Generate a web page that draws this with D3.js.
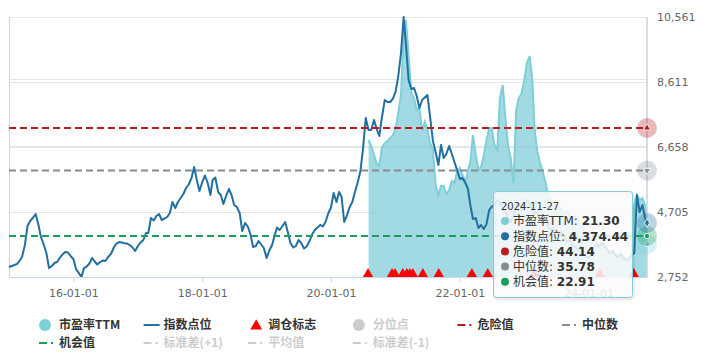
<!DOCTYPE html>
<html>
<head>
<meta charset="utf-8">
<script src="https://cdn.jsdelivr.net/npm/d3@7"></script>
<style>
    body {margin: 0; background: #fff}
    svg {display: block; font-family: "Microsoft YaHei", "Noto Sans CJK SC", sans-serif}
</style>
</head>
<body>
<svg id="chart" width="715" height="353"></svg>
<script>
// index samples: 1st and 16th of each month, 2015-01 .. 2024-11, then the last day
const indexValues = [
    3052, 3082, 3112, 3148, 3232, 3353, 3713, 4284, 4434, 4524, 4644, 4344, 3954, 3743, 3473, 3022, 3082, 3172, 3202, 3323, 3428, 3503, 3488, 3383,
    3293, 2992, 2870, 2752, 3022, 3067, 3157, 3323, 3218, 3127, 3202, 3247, 3232, 3353, 3443, 3623, 3758, 3803, 3788, 3764, 3758, 3713, 3638, 3533,
    3683, 3788, 3863, 4073, 4073, 4524, 4449, 4584, 4644, 4464, 4509, 4554, 4674, 5005, 4824, 5005, 5125, 5245, 5425, 5530, 5725, 6056, 5665, 5335,
    5605, 5800, 5575, 5215, 5665, 5740, 5305, 5215, 4944, 5185, 5395, 5215, 4914, 4854, 4674, 4134, 4374, 4269, 4043, 3653, 3683, 3833, 3728, 3623,
    3323, 3548, 3713, 4013, 4239, 4164, 4284, 4404, 4104, 3773, 3638, 3683, 3863, 3773, 3608, 3668, 3833, 4028, 4164, 4239, 4314, 4269, 4404, 4659,
    4839, 5275, 5005, 5305, 5155, 4404, 4614, 4854, 5005, 5305, 5605, 5936, 6626, 7528, 7167, 7167, 7468, 7197, 6987, 7558, 8068, 8008, 8008, 8098,
    8309, 8759, 9480, 10561, 9720, 8669, 8398, 8428, 8188, 7828, 8068, 8143, 8218, 7558, 6837, 6506, 6116, 6717, 6326, 6446, 6687, 6446, 6206, 5966,
    5695, 5725, 5575, 5395, 4914, 4494, 4524, 4224, 4314, 4194, 4344, 4764, 4864, 4914, 5065, 4974, 4824, 4704, 4524, 4404, 4614, 4884, 4974, 4764,
    4914, 5065, 4944, 4764, 4644, 4704, 4524, 4404, 4464, 4284, 4164, 4224, 4073, 3983, 4104, 3923, 3803, 3863, 3713, 3653, 3563, 3683, 3503, 3383,
    3323, 3443, 3623, 3743, 3653, 3773, 3683, 3563, 3473, 3533, 3413, 3353, 3443, 3323, 3263, 3293, 3413, 3473, 5215, 4704, 4914, 4524,
    4374.44
]

// PE TTM from 2020-08-01 on, same sampling
const peValues = [
    41.78, 40.60, 38.83, 37.26, 36.67, 40.40, 41.09, 41.58, 42.17, 42.66,
    43.94, 47.08, 50.62, 63.00, 65.36, 58.48, 51.01, 50.03, 47.67, 48.07, 43.55, 45.32, 43.75, 41.19, 39.81, 32.93, 30.97, 32.74, 32.74, 31.16, 31.95, 33.72, 33.32, 35.49,
    36.27, 34.90, 33.52, 35.88, 37.45, 42.76, 38.83, 35.88, 36.47, 38.63, 41.78, 44.13, 44.13, 40.79, 39.81, 50.03, 52.58, 46.10, 40.79, 38.24, 33.32, 47.67, 50.03, 50.82,
    53.57, 56.91, 58.28, 53.57, 43.74, 39.42, 37.26, 35.49, 33.52, 30.97, 29.98, 29.20, 28.61, 29.00, 28.02, 27.43, 27.82, 27.04, 26.45, 26.84, 26.05, 25.27, 24.48, 23.69,
    22.91, 22.12, 22.52, 21.73, 21.14, 20.55, 20.75, 20.16, 19.57, 19.76, 19.17, 18.78, 18.98, 18.39, 18.19, 17.99, 18.39, 29.00, 30.97, 29.98, 30.38, 29.00,
    21.30
]
const peStartIndex = 134

const tradeDates = ["2020-07-29", "2020-12-12", "2020-12-29", "2021-02-11", "2021-03-06", "2021-03-23", "2021-04-09",
    "2021-06-05", "2021-09-03", "2022-03-10", "2022-06-08", "2023-03-02", "2024-03-04", "2024-09-13"]

const dangerValue = 44.14,
    medianValue = 35.78,
    chanceValue = 22.91

const lastDate = "2024-11-27"
const indexTicks = [2752, 4705, 6658, 8611, 10561]
const peTicks = [14.85, 27.6, 40.6, 53.8, 65.95]
const xTicks = ["2016-01-01", "2018-01-01", "2020-01-01", "2022-01-01", "2024-01-01"]

const colors = {
    pe: "#7ecfd8",
    index: "#21709f",
    danger: "#bb1b1f",
    median: "#868b94",
    chance: "#1d9e5c",
    trade: "#ff0000",
    off: "#cccccc"
}

const legendItems = [
    {name: "市盈率TTM", symbol: "circle", color: colors.pe},
    {name: "指数点位", symbol: "line", color: colors.index},
    {name: "调仓标志", symbol: "triangle", color: colors.trade},
    {name: "分位点", symbol: "circle", color: colors.off, off: true},
    {name: "危险值", symbol: "dash", color: colors.danger},
    {name: "中位数", symbol: "dash", color: colors.median},
    {name: "机会值", symbol: "dash", color: colors.chance},
    {name: "标准差(+1)", symbol: "dash", color: colors.off, off: true},
    {name: "平均值", symbol: "dash", color: colors.off, off: true},
    {name: "标准差(-1)", symbol: "dash", color: colors.off, off: true}
]

const numberFont = "DejaVu Sans, Noto Sans CJK SC, sans-serif"


let parse = d3.timeParse("%Y-%m-%d"),
    dates = []

d3.timeMonth.range(new Date(2015, 0, 1), new Date(2024, 11, 1)).forEach(function(m) {
    dates.push(m, d3.timeDay.offset(m, 15))
})
dates.push(parse(lastDate))

let indexData = indexValues.map((v, i) => ({date: dates[i], value: v})),
    peData = peValues.map((v, i) => ({date: dates[peStartIndex + i], value: v}))

let svg = d3.select("#chart"),
    plotLeft = 9, plotRight = 647, plotTop = 17, plotBottom = 277

let x = d3.scaleTime().domain([new Date(2015, 0, 1), parse(lastDate)]).range([plotLeft, plotRight]),
    yIndex = d3.scaleLinear().domain([2752, 10561]).range([plotBottom, plotTop]),
    yPe = d3.scaleLinear().domain([14.85, 65.95]).range([plotBottom, plotTop])

// grid lines of both axes
svg.append("g").selectAll("line")
    .data(peTicks)
    .join("line")
    .attr("x1", plotLeft).attr("x2", plotRight)
    .attr("y1", d => Math.round(yPe(d)) + 0.5).attr("y2", d => Math.round(yPe(d)) + 0.5)
    .attr("stroke", "#e6e6e6")

svg.append("g").selectAll("line")
    .data(indexTicks)
    .join("line")
    .attr("x1", plotLeft).attr("x2", plotRight)
    .attr("y1", d => Math.round(yIndex(d)) + 0.5).attr("y2", d => Math.round(yIndex(d)) + 0.5)
    .attr("stroke", "#e6e6e6")

svg.append("line")
    .attr("x1", plotLeft + 0.5).attr("x2", plotLeft + 0.5)
    .attr("y1", plotTop).attr("y2", plotBottom)
    .attr("stroke", "#ccd6eb")

// PE area
svg.append("path")
    .datum(peData)
    .attr("fill", "rgba(126,204,216,0.72)")
    .attr("d", d3.area().x(d => x(d.date)).y0(plotBottom).y1(d => yPe(d.value)))

svg.append("path")
    .datum(peData)
    .attr("fill", "none")
    .attr("stroke", colors.pe)
    .attr("stroke-width", 2)
    .attr("d", d3.line().x(d => x(d.date)).y(d => yPe(d.value)))

// index line
svg.append("path")
    .datum(indexData)
    .attr("fill", "none")
    .attr("stroke", colors.index)
    .attr("stroke-width", 2)
    .attr("stroke-linejoin", "round")
    .attr("d", d3.line().x(d => x(d.date)).y(d => yIndex(d.value)))

// reference lines
;[[dangerValue, colors.danger], [medianValue, colors.median], [chanceValue, colors.chance]].forEach(function(ref) {
    svg.append("line")
        .attr("x1", plotLeft).attr("x2", plotRight - 4)
        .attr("y1", yPe(ref[0])).attr("y2", yPe(ref[0]))
        .attr("stroke", ref[1])
        .attr("stroke-width", 2)
        .attr("stroke-dasharray", "7,4")
})

// trade markers
svg.append("g").selectAll("path")
    .data(tradeDates)
    .join("path")
    .attr("transform", d => `translate(${x(parse(d))},274)`)
    .attr("d", d3.symbol().type(d3.symbolTriangle).size(46))
    .attr("fill", colors.trade)

// x axis
let xAxis = svg.append("g")
    .attr("transform", `translate(0,${plotBottom})`)
    .call(d3.axisBottom(x).tickValues(xTicks.map(parse)).tickFormat(d3.timeFormat("%y-%m-%d")).tickSize(5).tickSizeOuter(0))

xAxis.select(".domain").attr("stroke", "#ccd6eb")
xAxis.selectAll(".tick line").attr("stroke", "#ccd6eb")
xAxis.selectAll("text").attr("fill", "#666").attr("font-size", 11).attr("font-family", numberFont).attr("dy", "1.05em")

// right axis labels
let yAxis = svg.append("g")
    .attr("transform", `translate(${plotRight + 10},0)`)
    .call(d3.axisRight(yIndex).tickValues(indexTicks).tickFormat(d3.format(",")).tickSize(0))

yAxis.select(".domain").remove()
yAxis.selectAll("text").attr("fill", "#666").attr("font-size", 11).attr("font-family", numberFont).attr("x", 0)

// crosshair
svg.append("line")
    .attr("x1", plotRight).attr("x2", plotRight)
    .attr("y1", plotTop).attr("y2", plotBottom)
    .attr("stroke", "#c9d0dc")
    .attr("stroke-width", 1.5)

// hover halos at the last point
let lastX = x(parse(lastDate)),
    lastPe = peValues[peValues.length - 1],
    lastIndex = indexValues[indexValues.length - 1]

let halos = [
    {y: yPe(lastPe), color: colors.pe, shape: d3.symbolCircle},
    {y: yPe(chanceValue), color: colors.chance, shape: d3.symbolCircle},
    {y: yIndex(lastIndex), color: colors.index, shape: d3.symbolDiamond},
    {y: yPe(medianValue), color: colors.median, shape: d3.symbolTriangle, flip: true},
    {y: yPe(dangerValue), color: colors.danger, shape: d3.symbolTriangle}
]

halos.forEach(function(h) {
    svg.append("circle")
        .attr("cx", lastX).attr("cy", h.y).attr("r", 10)
        .attr("fill", h.color).attr("fill-opacity", 0.3)
    svg.append("path")
        .attr("transform", `translate(${lastX},${h.y})` + (h.flip ? " rotate(180)" : ""))
        .attr("d", d3.symbol().type(h.shape).size(22))
        .attr("fill", h.color)
        .attr("stroke", "#fff")
        .attr("stroke-width", 0.8)
})

// legend
let legend = svg.append("g")
    .attr("font-size", 12)
    .attr("font-weight", "bold")

legendItems.forEach(function(item, i) {
    let col = i % 6,
        row = Math.floor(i / 6),
        lx = 39 + col * 104.6,
        ly = 325 + row * 18,
        g = legend.append("g").attr("transform", `translate(${lx},${ly})`)

    if (item.symbol === "circle") {
        g.append("circle").attr("cx", 6).attr("cy", 0).attr("r", 6).attr("fill", item.color)
    } else if (item.symbol === "triangle") {
        g.append("path").attr("transform", "translate(8,1)")
            .attr("d", d3.symbol().type(d3.symbolTriangle).size(60)).attr("fill", item.color)
    } else if (item.symbol === "line") {
        g.append("line").attr("x1", 0).attr("x2", 16).attr("stroke", item.color).attr("stroke-width", 2)
    } else {
        g.append("line").attr("x1", 0).attr("x2", 16).attr("stroke", item.color).attr("stroke-width", 2)
            .attr("stroke-dasharray", "8,4,2,10")
    }

    g.append("text")
        .attr("x", 20)
        .attr("dy", "0.36em")
        .attr("fill", item.off ? "#cccccc" : "#333333")
        .text(item.name)
})

// tooltip
let tipRows = [
    {name: "市盈率TTM", value: d3.format(".2f")(lastPe), color: colors.pe},
    {name: "指数点位", value: d3.format(",.2f")(lastIndex), color: colors.index},
    {name: "危险值", value: d3.format(".2f")(dangerValue), color: colors.danger},
    {name: "中位数", value: d3.format(".2f")(medianValue), color: colors.median},
    {name: "机会值", value: d3.format(".2f")(chanceValue), color: colors.chance}
]

let tip = svg.append("g")
    .attr("transform", "translate(493,191)")
    .attr("font-family", numberFont)

tip.append("rect")
    .attr("x", 1.5).attr("y", 1.5).attr("width", 139).attr("height", 106).attr("rx", 3)
    .attr("fill", "none").attr("stroke", "rgba(0,0,0,0.08)").attr("stroke-width", 3)

tip.append("rect")
    .attr("x", 0.5).attr("y", 0.5).attr("width", 139).attr("height", 106).attr("rx", 3)
    .attr("fill", "rgba(250,250,250,0.86)")
    .attr("stroke", colors.pe)

tip.append("text")
    .attr("x", 8).attr("y", 19)
    .attr("font-size", 10)
    .attr("fill", "#333")
    .text(lastDate)

tipRows.forEach(function(r, i) {
    let ty = 30 + i * 15.2

    tip.append("circle").attr("cx", 12).attr("cy", ty).attr("r", 4).attr("fill", r.color)

    let t = tip.append("text")
        .attr("x", 20).attr("y", ty).attr("dy", "0.36em")
        .attr("font-size", 12).attr("fill", "#333")

    t.append("tspan").text(r.name + ": ")
    t.append("tspan").attr("font-weight", "bold").text(r.value)
})
</script>
</body>
</html>
